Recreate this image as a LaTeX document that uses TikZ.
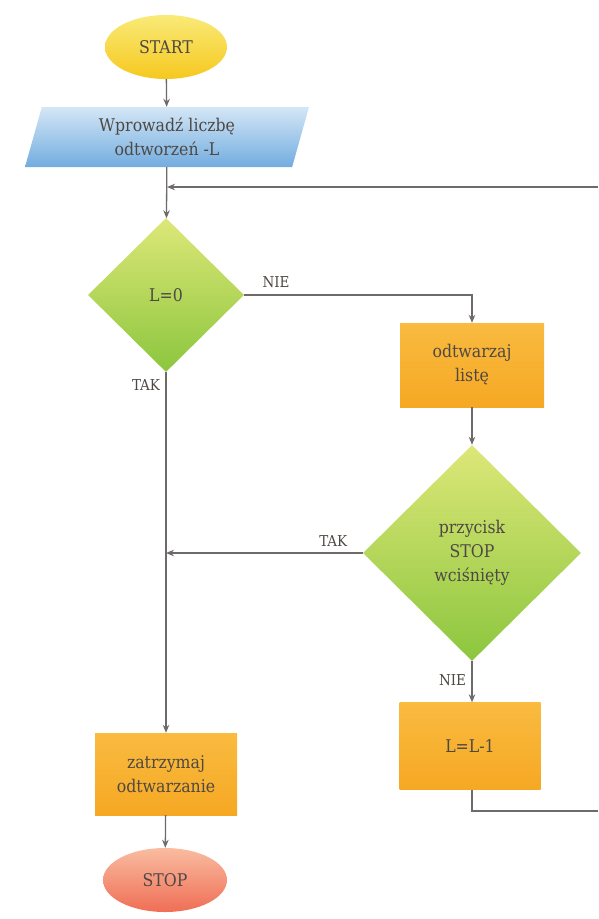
\documentclass[tikz,border=0pt]{standalone}
\usepackage{fontspec}
\setmainfont{DejaVu Serif Condensed}
\usepackage{tikz}
\usetikzlibrary{arrows.meta, positioning, calc, shapes.geometric}
\definecolor{liniaszara}{HTML}{6E6A6A}
\definecolor{tekst}{HTML}{4E4844}
\definecolor{zoltyG}{HTML}{F9EA78}
\definecolor{zoltyD}{HTML}{F6C81E}
\definecolor{niebieskiG}{HTML}{D4E7F6}
\definecolor{niebieskiD}{HTML}{72ACDF}
\definecolor{zielonyG}{HTML}{DDE778}
\definecolor{zielonyD}{HTML}{8CC63E}
\definecolor{pomaranczG}{HTML}{F9BB40}
\definecolor{pomaranczD}{HTML}{F6A823}
\definecolor{czerwonyG}{HTML}{F9BCA0}
\definecolor{czerwonyD}{HTML}{EF6E55}

\begin{document}
\begin{tikzpicture}[x=1pt, y=-1pt,
  >={Stealth[length=8pt,width=6.5pt]},
  every node/.style={text=tekst, font=\fontsize{17.5}{24}\selectfont, align=center},
  linia/.style={draw=liniaszara, line width=1.3pt},
  owal/.style={ellipse, inner sep=0pt},
  romb/.style={diamond, aspect=1, inner sep=0pt, top color=zielonyG, bottom color=zielonyD},
  blok/.style={rectangle, inner sep=0pt, top color=pomaranczG, bottom color=pomaranczD},
  etykieta/.style={text=tekst, font=\fontsize{15}{17}\selectfont}]
\useasboundingbox (0,0) rectangle (598,919);

% początek i wejście
\node[owal, minimum width=122, minimum height=64, top color=zoltyG, bottom color=zoltyD] (start) at (166,47) {START};
\node[trapezium, trapezium left angle=66, trapezium right angle=114, trapezium stretches body,
  minimum width=284, minimum height=60, inner sep=0pt,
  top color=niebieskiG, bottom color=niebieskiD] (wejscie) at (167,137) {Wprowadź liczbę\\odtworzeń -L};

% warunek L=0
\node[romb, minimum width=156, minimum height=154] (warunek) at (166,295) {L=0};

% odtwarzanie listy
\node[blok, minimum width=144, minimum height=84] (odtwarzaj) at (472,365) {odtwarzaj\\listę};

% przycisk STOP
\node[romb, minimum width=218, minimum height=216] (przycisk) at (472,553) {przycisk\\STOP\\wciśnięty};

% L=L-1
\node[blok, minimum width=141, minimum height=87] (zmniejsz) at (470,746) {L=L-1};

% koniec
\node[blok, minimum width=142, minimum height=82] (zatrzymaj) at (166,774) {zatrzymaj\\odtwarzanie};
\node[owal, minimum width=124, minimum height=64, top color=czerwonyG, bottom color=czerwonyD] (stop) at (165,880) {STOP};

% pętla
\coordinate (petlaP) at (598,187);
\coordinate (petlaD) at (598,811);

% połączenia
\draw[linia, ->] (start) -- (wejscie);
\draw[linia, ->] (wejscie) -- (warunek);
\draw[linia, ->] (petlaP) -- (wejscie.south |- petlaP);
\draw[linia, ->] (warunek.east) -| node[etykieta, pos=0.07, above=3pt] {NIE} (odtwarzaj.north);
\draw[linia, ->] (odtwarzaj) -- (przycisk);
\draw[linia, ->] (przycisk.west) -- node[etykieta, pos=0.15, above=3pt] {TAK} (przycisk.west -| warunek.south);
\draw[linia, ->] (przycisk.south) -- node[etykieta, pos=0.45, left=2pt] {NIE} (przycisk.south |- zmniejsz.north);
\draw[linia] (przycisk.south |- zmniejsz.south) |- (petlaD);
\draw[linia, ->] (warunek.south) -- node[etykieta, pos=0.035, left=2pt] {TAK} (zatrzymaj.north);
\draw[linia, ->] (zatrzymaj) -- (stop);

\end{tikzpicture}
\end{document}
